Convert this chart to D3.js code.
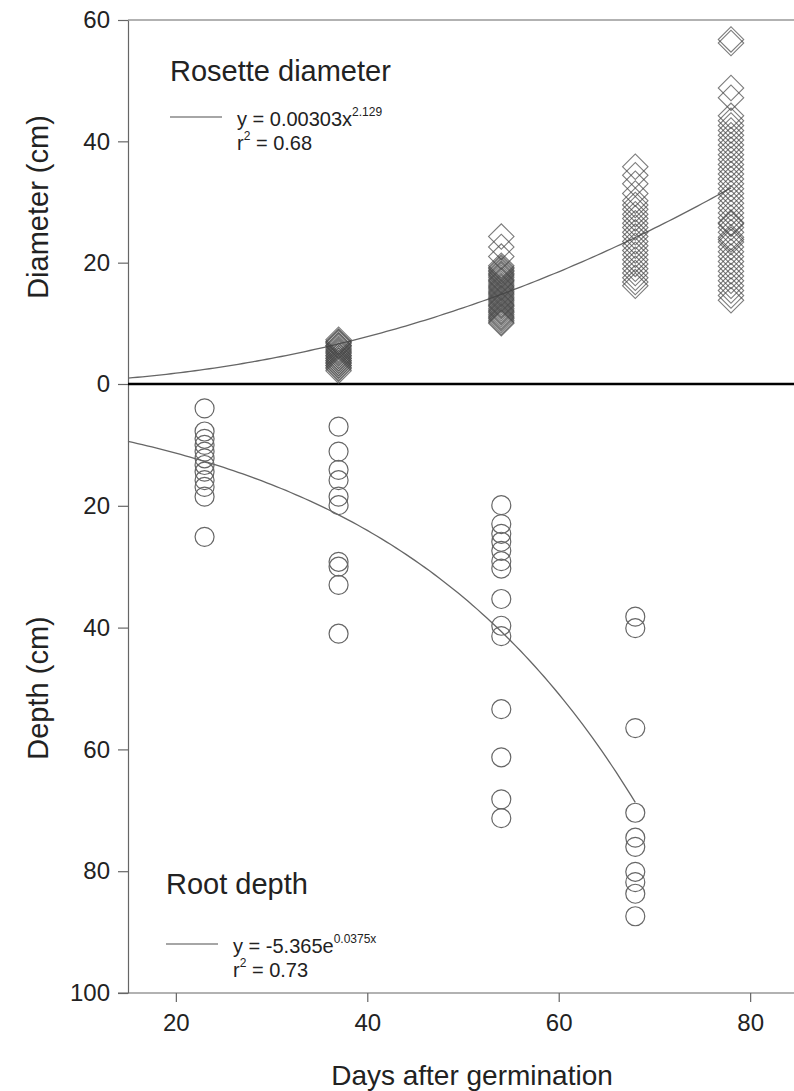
<!DOCTYPE html>
<html>
<head>
<meta charset="utf-8">
<script src="https://cdnjs.cloudflare.com/ajax/libs/d3/7.8.5/d3.min.js"></script>
<style>
  body { margin: 0; background: #fff; }
  svg text { font-family: "Liberation Sans", Arial, sans-serif; fill: #222; }
</style>
</head>
<body>
<div id="chart"></div>
<script>
// days after germination for each sampling
var diamDays = [37, 54, 68, 78];
var rootDays = [23, 37, 54, 68];

// rosette diameter (cm), one list per sampling day
var diam37 = [2.2, 2.5, 2.7, 3.0, 3.1, 3.4, 3.5, 3.8, 3.9, 4.2, 4.3, 4.6, 4.7, 5.0, 5.2, 5.4,
              5.6, 5.8, 6.1, 6.3, 6.4, 6.7, 6.9, 7.0, 7.3];
var diam54 = [24.3, 22.6, 21.0, 19.5, 19.2, 19.0, 18.7, 18.5, 18.2, 18.0, 17.8, 17.5, 17.2, 17.0,
              16.8, 16.5, 16.2, 16.0, 15.8, 15.5, 15.2, 15.0, 14.8, 14.5, 14.2, 14.0, 13.8, 13.5,
              13.2, 13.0, 12.8, 12.5, 12.2, 12.0, 11.8, 11.5, 11.2, 11.0, 10.8, 10.5, 10.2, 10.0];
var diam68 = [35.8, 34.4, 33.0, 31.4, 30.2, 29.5, 28.8, 28.0, 27.3, 26.5, 25.8, 25.0, 24.3, 23.5,
              22.8, 22.0, 21.3, 20.5, 19.8, 19.0, 18.3, 17.5, 16.8, 16.2];
var diam78 = [56.8, 56.2, 48.8, 47.2, 44.2, 43.4, 42.6, 41.8, 41.0, 40.2, 39.4, 38.6, 37.8, 37.0,
              36.2, 35.4, 34.6, 33.8, 33.0, 32.2, 31.4, 30.6, 29.8, 29.0, 28.2, 27.4, 26.6, 26.4,
              25.8, 25.0, 24.2, 23.8, 23.4, 22.6, 21.8, 21.0, 20.2, 19.4, 18.6, 17.8, 17.0, 16.2,
              15.4, 14.6, 13.8];

// root depth (cm), one list per sampling day
var root23 = [4.0, 7.8, 9.0, 10.0, 11.1, 12.2, 13.3, 14.4, 15.8, 16.9, 18.5, 25.1];
var root37 = [7.0, 11.1, 14.1, 15.8, 18.5, 19.9, 29.2, 30.0, 33.0, 41.0];
var root54 = [19.9, 23.0, 24.6, 25.9, 27.4, 29.1, 30.3, 35.3, 39.7, 41.4, 53.4, 61.3, 68.2, 71.3];
var root68 = [38.2, 40.1, 56.5, 70.4, 74.5, 76.0, 80.1, 81.8, 83.7, 87.4];

// fitted curves, as printed in the legends
var diamFit = {a: 0.00303, b: 2.129, from: 15, to: 78};
var rootFit = {a: 5.365, b: 0.0375, from: 15, to: 68};

var xTicks = [20, 40, 60, 80];
var diamTicks = [0, 20, 40, 60];
var rootTicks = [20, 40, 60, 80, 100];

var diamPoints = [];
[diam37, diam54, diam68, diam78].forEach(function(list, i) {
  list.forEach(function(v) { diamPoints.push({day: diamDays[i], value: v}); });
});
var rootPoints = [];
[root23, root37, root54, root68].forEach(function(list, i) {
  list.forEach(function(v) { rootPoints.push({day: rootDays[i], value: v}); });
});

var width = 794, height = 1091;
var svg = d3.select("#chart").append("svg")
    .attr("width", width)
    .attr("height", height);

// scales
var x = d3.scaleLinear().domain([15, 85]).range([128, 798]);
var yTop = d3.scaleLinear().domain([0, 60]).range([384, 20]);
var yBot = d3.scaleLinear().domain([0, 100]).range([384, 993]);

var axisColor = "#666";

// top frame line
svg.append("line")
    .attr("x1", x.range()[0]).attr("x2", x.range()[1])
    .attr("y1", yTop(60)).attr("y2", yTop(60))
    .attr("stroke", axisColor).attr("stroke-width", 1.2);

// left axes
var gTop = svg.append("g")
    .attr("transform", "translate(" + x.range()[0] + ",0)")
    .call(d3.axisLeft(yTop).tickValues(diamTicks).tickSize(10).tickSizeOuter(0).tickPadding(8));
var gBot = svg.append("g")
    .attr("transform", "translate(" + x.range()[0] + ",0)")
    .call(d3.axisLeft(yBot).tickValues(rootTicks).tickSize(10).tickSizeOuter(0).tickPadding(8));

// bottom axis
var gX = svg.append("g")
    .attr("transform", "translate(0," + yBot(100) + ")")
    .call(d3.axisBottom(x).tickValues(xTicks).tickSize(9).tickSizeOuter(0).tickPadding(12));

[gTop, gBot, gX].forEach(function(g) {
  g.selectAll("path.domain").attr("stroke", axisColor).attr("stroke-width", 1.2);
  g.selectAll(".tick line").attr("stroke", axisColor).attr("stroke-width", 1.2);
  g.selectAll(".tick text")
      .style("font-size", "24px")
      .attr("fill", "#222");
});
gX.select("path.domain").attr("d", "M" + (x.range()[0] - 10) + ",0H" + x.range()[1]);

// zero line between the two panels
svg.append("line")
    .attr("x1", x.range()[0]).attr("x2", x.range()[1])
    .attr("y1", yTop(0)).attr("y2", yTop(0))
    .attr("stroke", "#000").attr("stroke-width", 2.5);

// fitted curves
var diamCurve = d3.range(diamFit.from, diamFit.to + 0.01, 0.5).map(function(d) {
  return [d, diamFit.a * Math.pow(d, diamFit.b)];
});
var rootCurve = d3.range(rootFit.from, rootFit.to + 0.01, 0.5).map(function(d) {
  return [d, rootFit.a * Math.exp(rootFit.b * d)];
});

svg.append("path")
    .datum(diamCurve)
    .attr("fill", "none")
    .attr("stroke", "#666")
    .attr("stroke-width", 1.3)
    .attr("d", d3.line().x(function(d) { return x(d[0]); }).y(function(d) { return yTop(d[1]); }));

svg.append("path")
    .datum(rootCurve)
    .attr("fill", "none")
    .attr("stroke", "#666")
    .attr("stroke-width", 1.3)
    .attr("d", d3.line().x(function(d) { return x(d[0]); }).y(function(d) { return yBot(d[1]); }));

// diamonds
var diamond = d3.symbol().type(d3.symbolSquare).size(18 * 18);
svg.append("g").selectAll("path")
    .data(diamPoints)
    .enter().append("path")
    .attr("d", diamond)
    .attr("transform", function(d) { return "translate(" + x(d.day) + "," + yTop(d.value) + ") rotate(45)"; })
    .attr("fill", "none")
    .attr("stroke", "#444")
    .attr("stroke-opacity", 0.7)
    .attr("stroke-width", 1.1);

// circles
svg.append("g").selectAll("circle")
    .data(rootPoints)
    .enter().append("circle")
    .attr("cx", function(d) { return x(d.day); })
    .attr("cy", function(d) { return yBot(d.value); })
    .attr("r", 9.5)
    .attr("fill", "none")
    .attr("stroke", "#666")
    .attr("stroke-width", 1.2);

// axis titles
svg.append("text")
    .attr("transform", "translate(48,207) rotate(-90)")
    .attr("text-anchor", "middle")
    .style("font-size", "29px")
    .text("Diameter (cm)");
svg.append("text")
    .attr("transform", "translate(48,688) rotate(-90)")
    .attr("text-anchor", "middle")
    .style("font-size", "29px")
    .text("Depth (cm)");
svg.append("text")
    .attr("x", 472).attr("y", 1085)
    .attr("text-anchor", "middle")
    .style("font-size", "28px")
    .text("Days after germination");

// panel labels and legends
function legend(tx, ty, title, lineY, eqBase, eqSup, r2) {
  svg.append("text").attr("x", tx).attr("y", ty).style("font-size", "29px").text(title);
  svg.append("line")
      .attr("x1", tx).attr("x2", tx + 52)
      .attr("y1", lineY).attr("y2", lineY)
      .attr("stroke", "#888").attr("stroke-width", 1.3);
  var eq = svg.append("text").attr("x", tx + 67).attr("y", lineY + 9).style("font-size", "20px");
  eq.append("tspan").text(eqBase);
  eq.append("tspan").attr("dy", -10).style("font-size", "12px").text(eqSup);
  var r = svg.append("text").attr("x", tx + 67).attr("y", lineY + 33).style("font-size", "20px");
  r.append("tspan").text("r");
  r.append("tspan").attr("dy", -10).style("font-size", "12px").text("2");
  r.append("tspan").attr("dy", 10).text(" = " + r2);
}

legend(170, 81, "Rosette diameter", 117, "y = 0.00303x", "2.129", "0.68");
legend(166, 894, "Root depth", 944, "y = -5.365e", "0.0375x", "0.73");
</script>
</body>
</html>
